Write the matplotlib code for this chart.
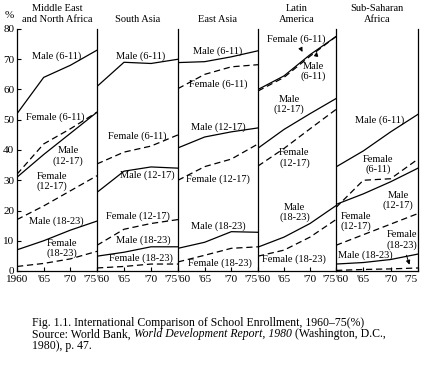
import matplotlib
matplotlib.use('Agg')
import matplotlib.pyplot as plt

plt.rcParams['font.family'] = ['Liberation Serif', 'DejaVu Serif']

# years on each panel
years = [1960, 1965, 1970, 1975]
regions = ['Middle East\nand North Africa', 'South Asia', 'East Asia',
           'Latin\nAmerica', 'Sub-Saharan\nAfrica']

# enrollment (%) per region: MENA, South Asia, East Asia, Latin America, SSA
male_611 = [[52, 64, 68, 73],
            [61, 69, 68.6, 70],
            [68.9, 69.2, 70.8, 72.8],
            [60, 64.5, 71.5, 77.5],
            [34.4, 39.7, 46, 51.8]]
female_611 = [[32, 42, 47, 52.5],
              [35.4, 39.3, 41.3, 45],
              [60.3, 65, 67.5, 68.2],
              [59.5, 64, 71, 77.5],
              [21, 30, 30.5, 37]]
male_1217 = [[31, 38.5, 45.5, 52.5],
             [26, 33, 34.4, 34],
             [40.7, 44.3, 46, 47.3],
             [40.6, 46.8, 52, 57],
             [22, 25.5, 29.5, 34]]
female_1217 = [[17, 21.5, 26.5, 31.5],
               [8.5, 13.8, 15.7, 17],
               [30, 34.5, 37, 42],
               [34.7, 40.5, 47, 53.4],
               [8.5, 12, 15.5, 19]]
male_1823 = [[7, 10, 13.5, 16.5],
             [4.9, 6.2, 8, 8],
             [7.5, 9.5, 13, 12.8],
             [7.9, 11.2, 15.7, 21.6],
             [2.3, 2.8, 3.8, 5.6]]
female_1823 = [[1.5, 2.5, 4, 6.5],
               [1, 1.5, 2.3, 2.3],
               [3, 5.2, 7.5, 8],
               [4.9, 6.9, 11.2, 17],
               [0.2, 0.5, 0.7, 1.0]]

# where the line labels sit (year, value) in each panel
labels = [
    [('Male (6-11)', 1967.5, 71), ('Female (6-11)', 1967.1, 51),
     ('Male\n(12-17)', 1969.6, 38), ('Female\n(12-17)', 1966.5, 29.5),
     ('Male (18-23)', 1967.3, 16.4), ('Female\n(18-23)', 1968.4, 7.5)],
    [('Male (6-11)', 1968.1, 71), ('Female (6-11)', 1967.5, 44.6),
     ('Male (12-17)', 1969.4, 31.8), ('Female (12-17)', 1967.5, 18),
     ('Male (18-23)', 1968.6, 10.2), ('Female (18-23)', 1968.1, 4.3)],
    [('Male (6-11)', 1967.5, 72.8), ('Female (6-11)', 1967.5, 61.6),
     ('Male (12-17)', 1967.5, 47.5), ('Female (12-17)', 1967.5, 30.2),
     ('Male (18-23)', 1967.5, 14.8), ('Female (18-23)', 1967.9, 2.6)],
    [('Male\n(12-17)', 1966, 55), ('Female\n(12-17)', 1967, 37.4),
     ('Male\n(18-23)', 1967, 19.3), ('Female (18-23)', 1967, 3.9)],
    [('Male (6-11)', 1967.9, 50), ('Female\n(6-11)', 1967.7, 35.2),
     ('Male\n(12-17)', 1971.4, 23.3), ('Female\n(12-17)', 1963.6, 16.4),
     ('Male (18-23)', 1965.4, 5.2)],
]

W, H = 426, 365
fig = plt.figure(figsize=(W / 100, H / 100), dpi=100)
edges = [17, 97, 178, 258, 336, 418]
y0, y1 = 271, 29
dash = (0, (5, 3))
lw = 0.9

for i in range(5):
    ax = fig.add_axes([edges[i] / W, 1 - y0 / H, (edges[i + 1] - edges[i]) / W, (y0 - y1) / H])
    ax.plot(years, male_611[i], color='black', lw=lw)
    ax.plot(years, female_611[i], color='black', lw=lw, ls=dash)
    ax.plot(years, male_1217[i], color='black', lw=lw)
    ax.plot(years, female_1217[i], color='black', lw=lw, ls=dash)
    ax.plot(years, male_1823[i], color='black', lw=lw)
    ax.plot(years, female_1823[i], color='black', lw=lw, ls=dash)
    ax.set_xlim(1960, 1975)
    ax.set_ylim(0, 80)
    ax.spines['top'].set_visible(False)
    if i < 4:
        ax.spines['right'].set_visible(False)
    for s in ax.spines.values():
        s.set_linewidth(0.9)
    ax.set_xticks(years)
    if i == 0:
        ax.set_xticklabels(['1960', "'65", "'70", "'75"])
    else:
        ax.set_xticklabels(["'60", "'65", "'70", "'75"])
    tl = ax.get_xticklabels()
    if i > 0:
        tl[0].set_ha('left')
    tl[3].set_ha('right')
    ax.tick_params(axis='x', direction='in', length=3, labelsize=8, pad=3)
    if i == 0:
        ax.set_yticks(range(0, 81, 10))
        ax.tick_params(axis='y', direction='in', length=3, labelsize=8, pad=2)
    else:
        ax.set_yticks([])
    ax.text(0.5, 1.02, regions[i], transform=ax.transAxes, ha='center', va='bottom',
            fontsize=7.5, linespacing=1.3)
    for txt, x, y in labels[i]:
        ax.text(x, y, txt, ha='center', va='center', fontsize=7.5, linespacing=1.1)
    if i == 3:
        ax.annotate('Female (6-11)', xy=(1968.8, 71.6), xytext=(1967.3, 76.7),
                    ha='center', va='center', fontsize=7.5,
                    arrowprops=dict(arrowstyle='-|>', lw=0.7, color='black', mutation_scale=6))
        ax.annotate('Male\n(6-11)', xy=(1971.4, 73.4), xytext=(1970.7, 66),
                    ha='center', va='center', fontsize=7.5, linespacing=1.1,
                    arrowprops=dict(arrowstyle='-|>', lw=0.7, color='black', mutation_scale=6))
    if i == 4:
        ax.annotate('Female\n(18-23)', xy=(1973.6, 1.2), xytext=(1972, 10.2),
                    ha='center', va='center', fontsize=7.5, linespacing=1.1,
                    arrowprops=dict(arrowstyle='-|>', lw=0.7, color='black', mutation_scale=6))

fig.text(5 / W, 1 - 16 / H, '%', fontsize=8, ha='left', va='center')

# caption
cap = 8.5
fig.text(32 / W, 1 - 323 / H, 'Fig. 1.1. International Comparison of School Enrollment, 1960\u201375(%)',
         fontsize=cap, va='center', ha='left')
t1 = fig.text(32 / W, 1 - 334.5 / H, 'Source: World Bank, ', fontsize=cap, va='center', ha='left')
t2 = fig.text(0, 0, 'World Development Report, 1980', fontsize=cap, style='italic')
t3 = fig.text(0, 0, ' (Washington, D.C.,', fontsize=cap)
fig.canvas.draw()
r = fig.canvas.get_renderer()
b1 = t1.get_window_extent(r)
t2.set_position((b1.x1 / fig.bbox.width, b1.y0 / fig.bbox.height))
t2.set_va('bottom')
fig.canvas.draw()
b2 = t2.get_window_extent(r)
t3.set_position((b2.x1 / fig.bbox.width, b1.y0 / fig.bbox.height))
t3.set_va('bottom')
fig.text(32 / W, 1 - 346 / H, '1980), p. 47.', fontsize=cap, va='center', ha='left')

fig.savefig('out.png', dpi=100)
